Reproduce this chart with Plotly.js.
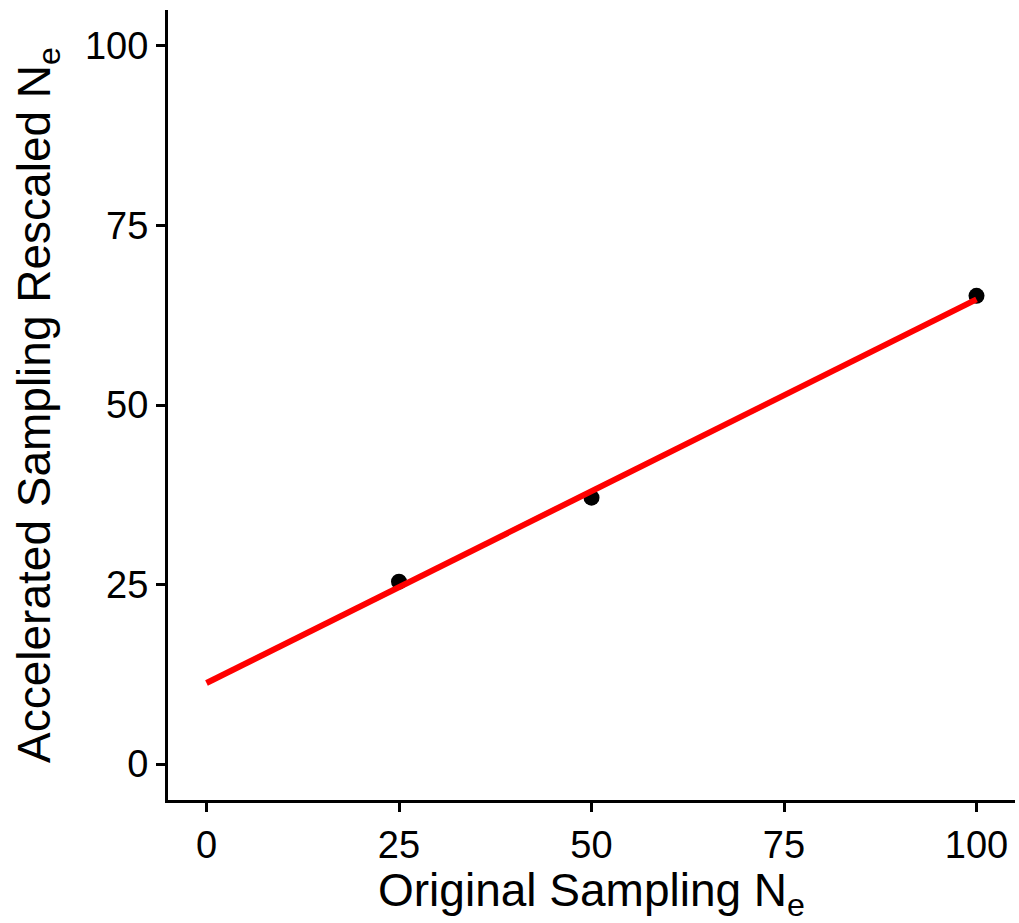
<!DOCTYPE html>
<html>
<head>
<meta charset="utf-8">
<script src="https://cdn.plot.ly/plotly-3.0.1.min.js"></script>
<style>html,body{margin:0;padding:0;background:#fff;}#chart{width:1019px;height:923px;}</style>
</head>
<body>
<div id="chart"></div>
<script>
// Data
const originalNe = [25, 50, 100];
const rescaledNe = [25.4, 37.1, 65.2];
const fitX = [0, 100];
const fitY = [11.3, 64.7];
const tickVals = [0, 25, 50, 75, 100];
const tickText = ['0', '25', '50', '75', '100'];

const font = 'Liberation Sans, Arial, sans-serif';

const traces = [
  {
    x: originalNe, y: rescaledNe, type: 'scatter', mode: 'markers',
    marker: {color: '#000000', size: 16}, hoverinfo: 'skip', showlegend: false
  },
  {
    x: fitX, y: fitY, type: 'scatter', mode: 'lines',
    line: {color: '#ff0000', width: 6}, hoverinfo: 'skip', showlegend: false
  }
];

const layout = {
  width: 1019, height: 923,
  margin: {l: 168, r: 4, t: 10, b: 123},
  paper_bgcolor: '#ffffff', plot_bgcolor: '#ffffff',
  font: {family: font, color: '#000000'},
  showlegend: false,
  xaxis: {
    range: [-5, 105], tickvals: tickVals, ticktext: tickText,
    showgrid: false, zeroline: false, showline: true, linecolor: '#000000', linewidth: 3,
    ticks: 'outside', ticklen: 9, tickwidth: 3, tickcolor: '#000000',
    tickfont: {size: 38, color: '#000000', family: font},
    title: {text: 'Original Sampling N<sub>e</sub>', font: {size: 46, color: '#000000', family: font}, standoff: 10}
  },
  yaxis: {
    range: [-5, 105], tickvals: tickVals, ticktext: tickText,
    showgrid: false, zeroline: false, showline: true, linecolor: '#000000', linewidth: 3,
    ticks: 'outside', ticklen: 9, tickwidth: 3, tickcolor: '#000000',
    tickfont: {size: 38, color: '#000000', family: font},
    title: {text: 'Accelerated Sampling Rescaled N<sub>e</sub>', font: {size: 46, color: '#000000', family: font}, standoff: 20}
  }
};

Plotly.newPlot('chart', traces, layout, {staticPlot: true, displayModeBar: false});
</script>
</body>
</html>
